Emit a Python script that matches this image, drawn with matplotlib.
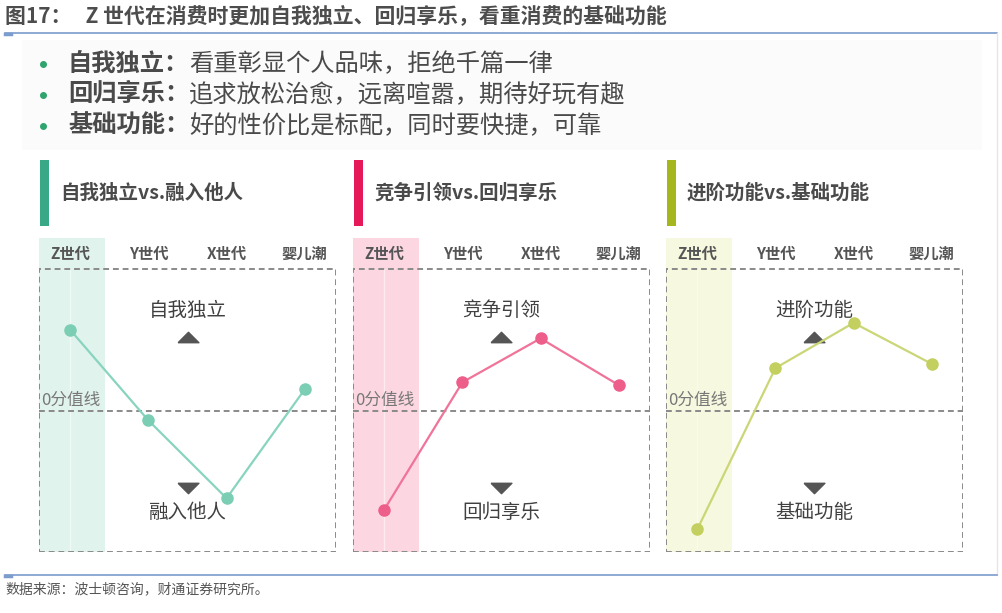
import numpy as np
import matplotlib
matplotlib.use("Agg")
import matplotlib.pyplot as plt
from matplotlib.patches import Rectangle

plt.rcParams['font.family'] = ['Noto Sans CJK SC', 'DejaVu Sans']

# data (score relative to the 0 line, box edge = +/-1)
generations = ["Z世代", "Y世代", "X世代", "婴儿潮"]
panel_titles = ["自我独立vs.融入他人", "竞争引领vs.回归享乐", "进阶功能vs.基础功能"]
top_labels = ["自我独立", "竞争引领", "进阶功能"]
bottom_labels = ["融入他人", "回归享乐", "基础功能"]
scores_independence = [0.57, -0.07, -0.62, 0.15]
scores_leading = [-0.70, 0.20, 0.51, 0.18]
scores_advanced = [-0.84, 0.30, 0.62, 0.33]

bullet_heads = ["自我独立：", "回归享乐：", "基础功能："]
bullet_texts = ["看重彰显个人品味，拒绝千篇一律",
                "追求放松治愈，远离喧嚣，期待好玩有趣",
                "好的性价比是标配，同时要快捷，可靠"]

title = "图17：   Z 世代在消费时更加自我独立、回归享乐，看重消费的基础功能"
source = "数据来源：波士顿咨询，财通证券研究所。"

bar_colors = ["#38a886", "#e5195a", "#a6b61f"]
band_colors = ["#e0f3ec", "#fcd7e2", "#f6f8df"]
line_colors = ["#88d4be", "#f0739a", "#cbd677"]
dot_colors = ["#7bcdb4", "#ee5e8b", "#c3cf5e"]

W, H = 1003, 613
fig = plt.figure(figsize=(W / 100, H / 100), dpi=100)

# overlay axes in pixel units for the page decorations
bg = fig.add_axes([0, 0, 1, 1])
bg.set_xlim(0, W)
bg.set_ylim(H, 0)
bg.axis('off')

bg.text(5, 17, title, fontsize=15, fontweight='bold', color='#4d4d4d',
        va='center', ha='left')
bg.plot([5, 997], [33, 33], color='#7b9ccc', lw=1.2)
bg.plot([5, 11], [34, 34], color='#7b9ccc', lw=2.5)
bg.plot([997, 997], [33, 575], color='#e6e6e6', lw=1)
bg.plot([5, 997], [575, 575], color='#7b9ccc', lw=1.2)
bg.plot([5, 11], [576, 576], color='#7b9ccc', lw=2.5)
bg.text(5, 589, source, fontsize=10, color='#555555', va='center', ha='left')

# very light grey block behind the bullets
bg.add_patch(Rectangle((22, 40), 960, 110, color='#fbfbfb', lw=0, zorder=0))

for i in range(3):
    y = 64 + i * 31
    bg.plot(43, y, 'o', color='#2fa56e', ms=4)
    t = bg.text(68, y, bullet_heads[i], fontsize=17.5, fontweight='bold',
                color='#4a4a4a', va='center', ha='left')
    bg.annotate(bullet_texts[i], xycoords=t, xy=(1, 0.5), va='center',
                ha='left', fontsize=17.5, color='#4a4a4a')

all_scores = [scores_independence, scores_leading, scores_advanced]
box_left = [39, 353, 666]
box_w = 297
box_top, box_bottom, head_top = 269, 552, 238
zero_y = 410
unit = (zero_y - box_top)

tri_up = [(-1, -0.5), (1, -0.5), (0, 0.5), (-1, -0.5)]
tri_dn = [(-1, 0.5), (1, 0.5), (0, -0.5), (-1, 0.5)]

for p in range(3):
    x0 = box_left[p]
    # colour bar and panel title
    bg.add_patch(Rectangle((x0 + 1, 160), 9, 66, color=bar_colors[p], lw=0))
    bg.text(x0 + 21, 193, panel_titles[p], fontsize=14, fontweight='bold',
            color='#4a4a4a', va='center', ha='left')

    ytop = (zero_y - head_top) / unit
    ax = fig.add_axes([x0 / W, 1 - box_bottom / H, box_w / W,
                       (box_bottom - head_top) / H])
    ax.set_xlim(-0.4, 3.4)
    ax.set_ylim(-1, ytop)
    ax.axis('off')

    # Z generation band
    ax.add_patch(Rectangle((-0.4, -1), 0.84, 1 + ytop, color=band_colors[p],
                           lw=0, zorder=0))
    ax.plot([0, 0], [-1, 1], color='white', lw=1, alpha=0.5, zorder=0.5)

    for i, g in enumerate(generations):
        ax.text(i, 1.11, g, fontsize=11, fontweight='bold', color='#555555',
                ha='center', va='center')

    ax.add_patch(Rectangle((-0.4, -1), 3.8, 2, fill=False, ec='#8a8a8a',
                           lw=1.4, ls=(0, (3, 2)), zorder=3))
    ax.plot([-0.4, 3.4], [0, 0], color='#8a8a8a', lw=1.4, ls=(0, (3, 2)),
            zorder=3)
    ax.text(-0.37, 0.07, "0分值线", fontsize=12, color='#777777',
            ha='left', va='center')

    ax.text(1.5, 0.71, top_labels[p], fontsize=14, fontweight='medium',
            color='#404040', ha='center', va='center')
    ax.plot(1.5, 0.52, marker=tri_up, ms=15, color='#555555', lw=0)
    ax.plot(1.5, -0.55, marker=tri_dn, ms=15, color='#555555', lw=0)
    ax.text(1.5, -0.72, bottom_labels[p], fontsize=14, fontweight='medium',
            color='#404040', ha='center', va='center')

    xs = np.arange(len(generations))
    ax.plot(xs, all_scores[p], color=line_colors[p], lw=1.6, zorder=4)
    ax.plot(xs, all_scores[p], 'o', color=dot_colors[p], ms=8, zorder=5)

fig.savefig("out.png", dpi=100)
